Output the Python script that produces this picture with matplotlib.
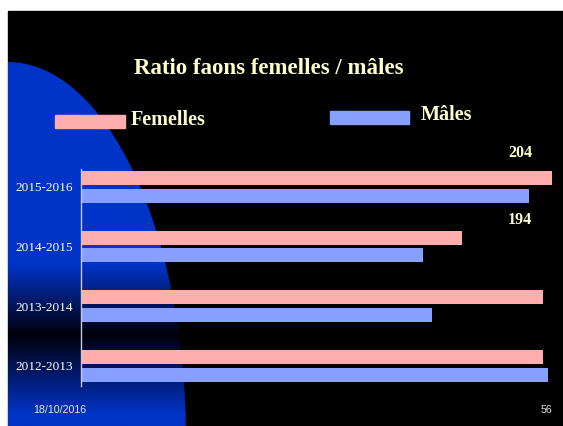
import matplotlib
matplotlib.use('Agg')
import matplotlib.pyplot as plt
import numpy as np
from matplotlib.patches import Rectangle, Ellipse

# données
saisons = ['2012-2013', '2013-2014', '2014-2015', '2015-2016']
femelles = [200, 200, 165, 204]
males = [202, 152, 148, 194]
etiquettes = {'204': (3, 'f'), '194': (3, 'm')}

ROSE = '#FFADAD'
BLEU = '#879FFF'
JAUNE = '#FFFFCC'
W, H = 563, 426

fig = plt.figure(figsize=(W / 100, H / 100), dpi=100)
fig.patch.set_facecolor('white')

# ── fond de la diapo ──
bg = fig.add_axes([0, 0, 1, 1])
bg.set_xlim(0, W)
bg.set_ylim(H, 0)
bg.axis('off')
bg.add_patch(Rectangle((8, 11), W - 8, H - 11, color='black', zorder=0))

# forme bleue à gauche avec bande sombre
ys = np.linspace(11, H, 400)
f = np.ones_like(ys)
f = np.where((ys > 265) & (ys <= 335), 1 - (ys - 265) / 70, f)
f = np.where((ys > 335) & (ys < 415), (ys - 335) / 80, f)
bleu = np.array([0, 51, 200]) / 255
sombre = np.array([0, 0, 10]) / 255
grad = f[:, None] * bleu + (1 - f[:, None]) * sombre
img = np.repeat(grad[:, None, :], 2, axis=1)
forme = Ellipse((8, 440), 2 * 178, 2 * 378, transform=bg.transData,
                facecolor='none', edgecolor='none')
bg.add_patch(forme)
im = bg.imshow(img, extent=(8, 200, H, 11), aspect='auto', zorder=1,
               interpolation='bilinear')
im.set_clip_path(forme)
bg.set_xlim(0, W)
bg.set_ylim(H, 0)

# titre et légende
serif = 'Liberation Serif'
bg.text(269, 68, 'Ratio faons femelles / mâles', ha='center', va='center',
        fontsize=16.5, fontweight='bold', family=serif, color=JAUNE, zorder=5)
bg.add_patch(Rectangle((55, 115), 70, 13, color=ROSE, zorder=5))
bg.text(131, 120, 'Femelles', ha='left', va='center', fontsize=14.5,
        fontweight='bold', family=serif, color=JAUNE, zorder=5)
bg.add_patch(Rectangle((330, 111), 79, 13, color=BLEU, zorder=5))
bg.text(421, 115, 'Mâles', ha='left', va='center', fontsize=14.5,
        fontweight='bold', family=serif, color=JAUNE, zorder=5)

# pied de page
bg.text(59.5, 410, '18/10/2016', ha='center', va='center', fontsize=7.7,
        family='Liberation Sans', color='#E6E6E6', zorder=5)
bg.text(546, 410, '56', ha='center', va='center', fontsize=7.7,
        family='Liberation Sans', color='#E6E6E6', zorder=5)

# ── graphique ──
ax = fig.add_axes([81 / W, 40 / H, (555 - 81) / W, 217 / H])
ax.set_facecolor('none')
y = np.arange(len(saisons))
h = 0.233
ax.barh(y + 0.15, femelles, height=h, color=ROSE)
ax.barh(y - 0.15, males, height=h, color=BLEU)
ax.set_xlim(0, 205.2)
ax.set_ylim(-0.34, 3.3)
ax.set_yticks(y)
ax.set_yticklabels(saisons, family=serif, fontsize=9.5, color='white')
ax.tick_params(axis='y', length=0, pad=6)
ax.set_xticks([])
for s in ['top', 'right', 'bottom']:
    ax.spines[s].set_visible(False)
ax.spines['left'].set_color('#C8C8D8')
ax.spines['left'].set_linewidth(1)

for txt, (i, serie) in etiquettes.items():
    yy = i + 0.15 + 0.42 if serie == 'f' else i - 0.15 - 0.40
    ax.text(190, yy, txt, ha='center', va='center', fontsize=11.5,
            fontweight='bold', family=serif, color=JAUNE, clip_on=False)

fig.savefig('out.png', dpi=100)
